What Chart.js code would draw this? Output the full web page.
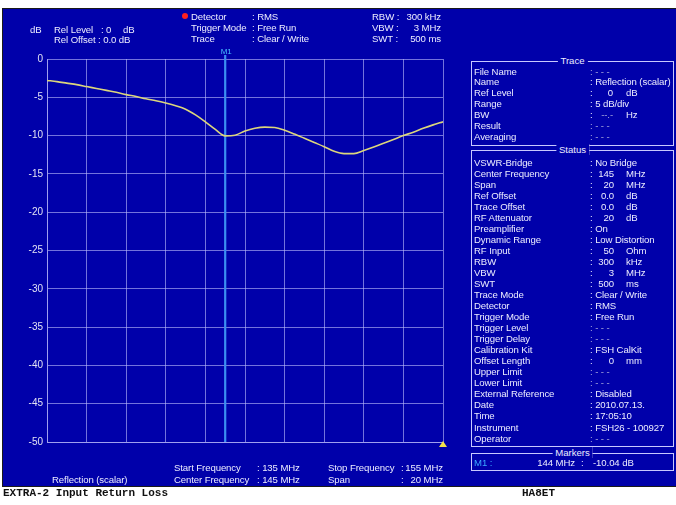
<!DOCTYPE html>
<html>
<head>
<meta charset="utf-8">
<script src="https://cdn.jsdelivr.net/npm/chart.js@4/dist/chart.umd.min.js"></script>
<style>
  html, body { margin: 0; padding: 0; background: #ffffff; width: 676px; height: 505px; overflow: hidden; }
  #screen { position: absolute; left: 2px; top: 8px; width: 676px; height: 479px; background: #0000aa;
            border-left: 1px solid #1a1a1a; border-top: 1px solid #1a1a1a; border-bottom: 1px solid #1a1a1a; box-sizing: border-box; }
  #plot { position: absolute; left: 0; top: 0; }
  .t { position: absolute; font: 9.6px "Liberation Sans", Arial, sans-serif; letter-spacing: -0.1px; color: #ececff; white-space: pre; line-height: 11px; }
  .dim { color: #a8a8dc; }
  .box { position: absolute; border: 1px solid #c8c8ff; box-sizing: border-box; }
  .ttl { position: absolute; background: #0000aa; padding: 0 3px; font: 9.6px "Liberation Sans", Arial, sans-serif; color: #ececff; line-height: 11px; transform: translateX(-50%); }
  .foot { position: absolute; font: bold 11px "Liberation Mono", "Courier New", monospace; color: #101010; white-space: pre; line-height: 12px; }
</style>
</head>
<body>
<div id="screen"></div>
<canvas id="plot" width="676" height="505"></canvas>
<script>
// Measured return loss of the EXTRA-2 input, 135-155 MHz sweep
const freqMHz = [135, 135.5, 136, 136.5, 137, 137.5, 138, 138.5, 139, 139.5,
                 140, 140.5, 141, 141.5, 142, 142.5, 143, 143.5, 144, 144.5,
                 145, 145.5, 146, 146.5, 147, 147.5, 148, 148.5, 149, 149.5,
                 150, 150.5, 151, 151.5, 152, 152.5, 153, 153.5, 154, 154.5, 155];
const returnLossDb = [-2.8, -2.95, -3.15, -3.35, -3.6, -3.85, -4.1, -4.35, -4.65, -4.9,
                      -5.2, -5.45, -5.75, -6.1, -6.55, -7.3, -8.2, -9.2, -10.04, -9.95,
                      -9.4, -9.05, -8.9, -8.95, -9.3, -9.8, -10.35, -10.9, -11.45, -12.05,
                      -12.35, -12.35, -11.95, -11.5, -11.0, -10.5, -10.0, -9.55, -9.05, -8.6, -8.2];
const yTickLabels = ['0', '-5', '-10', '-15', '-20', '-25', '-30', '-35', '-40', '-45', '-50'];
const markerFreq = 144;
const markerLevel = -10.04;

// Instrument settings shown around the graph
const headerLeft = [['Rel Level', '0', 'dB'], ['Rel Offset', '0.0 dB', '']];
const headerMid = [['Detector', 'RMS'], ['Trigger Mode', 'Free Run'], ['Trace', 'Clear / Write']];
const headerRight = [['RBW', '300 kHz'], ['VBW', '3 MHz'], ['SWT', '500 ms']];
const traceRows = [
  ['File Name', '- - -', ''], ['Name', 'Reflection (scalar)', ''], ['Ref Level', '0', 'dB'],
  ['Range', '5 dB/div', ''], ['BW', '--.-', 'Hz'], ['Result', '- - -', ''], ['Averaging', '- - -', '']
];
const statusRows = [
  ['VSWR-Bridge', 'No Bridge', ''], ['Center Frequency', '145', 'MHz'], ['Span', '20', 'MHz'],
  ['Ref Offset', '0.0', 'dB'], ['Trace Offset', '0.0', 'dB'], ['RF Attenuator', '20', 'dB'],
  ['Preamplifier', 'On', ''], ['Dynamic Range', 'Low Distortion', ''], ['RF Input', '50', 'Ohm'],
  ['RBW', '300', 'kHz'], ['VBW', '3', 'MHz'], ['SWT', '500', 'ms'], ['Trace Mode', 'Clear / Write', ''],
  ['Detector', 'RMS', ''], ['Trigger Mode', 'Free Run', ''], ['Trigger Level', '- - -', ''],
  ['Trigger Delay', '- - -', ''], ['Calibration Kit', 'FSH CalKit', ''], ['Offset Length', '0', 'mm'],
  ['Upper Limit', '- - -', ''], ['Lower Limit', '- - -', ''], ['External Reference', 'Disabled', ''],
  ['Date', '2010.07.13.', ''], ['Time', '17:05:10', ''], ['Instrument', 'FSH26 - 100927', ''], ['Operator', '- - -', '']
];
const sweepInfo = [['Start Frequency', '135 MHz', 'Stop Frequency', '155 MHz'],
                   ['Center Frequency', '145 MHz', 'Span', '20 MHz']];

function put(x, yc, text, cls, align) {
  const d = document.createElement('div');
  d.className = 't' + (cls ? ' ' + cls : '');
  d.textContent = text;
  d.style.top = (yc - 5.5) + 'px';
  if (align === 'right') d.style.right = (676 - x) + 'px'; else d.style.left = x + 'px';
  document.body.appendChild(d);
  return d;
}
function box(x, y, w, h, title) {
  const b = document.createElement('div');
  b.className = 'box';
  Object.assign(b.style, { left: x + 'px', top: y + 'px', width: w + 'px', height: h + 'px' });
  document.body.appendChild(b);
  const t = document.createElement('div');
  t.className = 'ttl';
  t.textContent = title;
  Object.assign(t.style, { left: (x + w / 2) + 'px', top: (y - 6) + 'px' });
  document.body.appendChild(t);
}
const isDim = v => v === '- - -' || v === '--.-';

// header
put(30, 29, 'dB');
put(54, 29, headerLeft[0][0]); put(101, 29, ':'); put(106, 29, headerLeft[0][1]); put(123, 29, headerLeft[0][2]);
put(54, 39.5, headerLeft[1][0] + ' : ' + headerLeft[1][1]);
const dot = document.createElement('div');
Object.assign(dot.style, { position: 'absolute', left: '182px', top: '13px', width: '6px', height: '6px', borderRadius: '3px', background: '#ff2020' });
document.body.appendChild(dot);
headerMid.forEach((r, i) => { const y = 16.5 + i * 11.2; put(191, y, r[0]); put(252, y, ': ' + r[1]); });
headerRight.forEach((r, i) => { const y = 16.5 + i * 11.2; put(372, y, r[0] + ' :'); put(441, y, r[1], '', 'right'); });

// sweep information below the graph
put(52, 479, 'Reflection (scalar)');
sweepInfo.forEach((r, i) => {
  const y = 467 + i * 12;
  put(174, y, r[0]); put(257, y, ': ' + r[1]);
  put(328, y, r[2]); put(401, y, ':'); put(443, y, r[3], '', 'right');
});

// side panel
box(471, 61, 203, 85, 'Trace');
traceRows.forEach((r, i) => {
  const y = 71 + i * 10.95;
  put(474, y, r[0]);
  if (r[2]) { put(590, y, ':'); put(613, y, r[1], isDim(r[1]) ? 'dim' : '', 'right'); put(626, y, r[2]); }
  else put(590, y, ': ' + r[1], isDim(r[1]) ? 'dim' : '');
});
box(471, 150, 203, 297, 'Status');
statusRows.forEach((r, i) => {
  const y = 162.3 + i * 11.03;
  put(474, y, r[0]);
  if (r[2]) { put(590, y, ':'); put(614, y, r[1], '', 'right'); put(626, y, r[2]); }
  else put(590, y, ': ' + r[1], isDim(r[1]) ? 'dim' : '');
});
box(471, 453, 203, 18, 'Markers');
put(474, 462.5, 'M1 :').style.color = '#3aa8ff';
put(575, 462.5, markerFreq + ' MHz', '', 'right'); put(581, 462.5, ':'); put(593, 462.5, markerLevel.toFixed(2) + ' dB');

// footer line
const f1 = document.createElement('div'); f1.className = 'foot'; f1.textContent = 'EXTRA-2 Input Return Loss';
Object.assign(f1.style, { left: '3px', top: '487px' }); document.body.appendChild(f1);
const f2 = document.createElement('div'); f2.className = 'foot'; f2.textContent = 'HA8ET';
Object.assign(f2.style, { left: '522px', top: '487px' }); document.body.appendChild(f2);

const gridColor = 'rgba(185,185,250,0.62)';

// marker M1 line, label and reference-level triangle
const markerPlugin = {
  id: 'markerM1',
  beforeDatasetsDraw(chart) {
    const { ctx, chartArea, scales } = chart;
    const x = scales.x.getPixelForValue(markerFreq);
    ctx.save();
    ctx.strokeStyle = '#3b8ff2';
    ctx.lineWidth = 2.2;
    ctx.beginPath();
    ctx.moveTo(x, chartArea.top - 4);
    ctx.lineTo(x, chartArea.bottom);
    ctx.stroke();
    ctx.fillStyle = '#46c0ff';
    ctx.font = '8px "Liberation Sans", Arial, sans-serif';
    ctx.textAlign = 'center';
    ctx.textBaseline = 'middle';
    ctx.fillText('M1', x + 1, chartArea.top - 7);
    ctx.restore();
  },
  afterDatasetsDraw(chart) {
    const { ctx, chartArea } = chart;
    ctx.save();
    ctx.fillStyle = '#f4e24a';
    ctx.beginPath();
    ctx.moveTo(chartArea.right - 4, chartArea.bottom + 5);
    ctx.lineTo(chartArea.right + 4, chartArea.bottom + 5);
    ctx.lineTo(chartArea.right, chartArea.bottom - 1);
    ctx.closePath();
    ctx.fill();
    ctx.restore();
  }
};

new Chart(document.getElementById('plot').getContext('2d'), {
  type: 'line',
  data: {
    datasets: [{
      data: freqMHz.map((f, i) => ({ x: f, y: returnLossDb[i] })),
      borderColor: '#dcd67c',
      borderWidth: 1.6,
      pointRadius: 0,
      fill: false,
      cubicInterpolationMode: 'monotone'
    }]
  },
  options: {
    responsive: false,
    animation: false,
    devicePixelRatio: 1,
    layout: { padding: { left: 0, top: 59, right: 233, bottom: 63 } },
    plugins: { legend: { display: false }, tooltip: { enabled: false } },
    scales: {
      x: {
        type: 'linear', min: 135, max: 155,
        ticks: { display: false, stepSize: 2 },
        grid: { color: gridColor, drawTicks: false, lineWidth: 1 },
        border: { display: true, color: gridColor },
        afterFit(s) { s.height = 0; }
      },
      y: {
        min: -50, max: 0,
        ticks: {
          stepSize: 5, padding: 4, color: '#e2e2f4',
          font: { size: 10, family: '"Liberation Sans", Arial, sans-serif' },
          callback: (v) => yTickLabels[Math.round(-v / 5)]
        },
        grid: { color: gridColor, drawTicks: false, lineWidth: 1 },
        border: { display: true, color: gridColor },
        afterFit(s) { s.width = 47; }
      }
    }
  },
  plugins: [markerPlugin]
});
</script>
</body>
</html>
